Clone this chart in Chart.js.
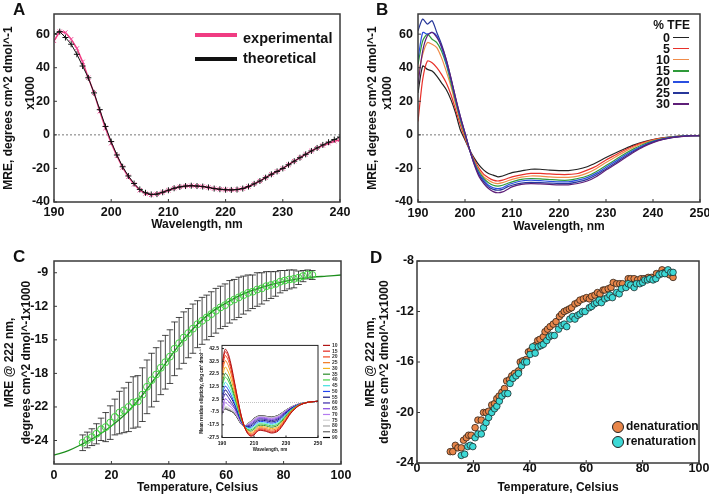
<!DOCTYPE html>
<html>
<head>
<meta charset="utf-8">
<script src="https://cdn.jsdelivr.net/npm/chart.js@4.4.1/dist/chart.umd.min.js"></script>
<style>
  body { margin: 0; background: #fff; }
  #wrap { position: relative; width: 709px; height: 494px; overflow: hidden; background: #fff;
          font-family: "Liberation Sans", Arial, sans-serif; font-weight: bold; color: #111; }
  canvas { position: absolute; }
  .t { position: absolute; white-space: nowrap; line-height: 1; }
  .letter { font-size: 17px; }
  .sw { position: absolute; }
</style>
</head>
<body>
<div id="wrap">
  <canvas id="cA" style="left:0;top:0" width="355" height="247"></canvas>
  <canvas id="cB" style="left:355px;top:0" width="354" height="247"></canvas>
  <canvas id="cC" style="left:0;top:247px" width="355" height="247"></canvas>
  <canvas id="cD" style="left:355px;top:247px" width="354" height="247"></canvas>
  <canvas id="cIn" style="left:196px;top:338px" width="150" height="118"></canvas>

  <div class="t letter" style="left:13px;top:1px">A</div>
  <div class="t letter" style="left:376px;top:1px">B</div>
  <div class="t letter" style="left:13px;top:248px">C</div>
  <div class="t letter" style="left:370px;top:249px">D</div>

  <!-- legend A -->
  <div class="sw" style="left:195px;top:33px;width:42px;height:4px;background:#f03c82"></div>
  <div class="t" style="left:243px;top:31px;font-size:14.5px">experimental</div>
  <div class="sw" style="left:195px;top:57px;width:42px;height:4px;background:#111"></div>
  <div class="t" style="left:243px;top:51px;font-size:14.5px">theoretical</div>

  <!-- legend B -->
  <div id="legB"></div>

  <!-- legend D -->
  <div class="sw" style="left:611.5px;top:420.5px;width:10px;height:10px;border-radius:50%;background:#e8864a;border:1px solid #222"></div>
  <div class="t" style="left:626px;top:420px;font-size:12px">denaturation</div>
  <div class="sw" style="left:611.5px;top:435.5px;width:10px;height:10px;border-radius:50%;background:#3dd9d6;border:1px solid #222"></div>
  <div class="t" style="left:626px;top:435px;font-size:12px">renaturation</div>
</div>

<script>
// ---------- Panel A: experimental vs theoretical CD spectrum ----------
const aWl = [190,191,192,193,194,195,196,197,198,199,200,201,202,203,204,205,206,207,208,209,210,
  211,212,213,214,215,216,217,218,219,220,221,222,223,224,225,226,227,228,229,230,
  231,232,233,234,235,236,237,238,239,240];
const aExp = [56,61.5,61,57,51.5,43.5,34,25,14,4,-5,-12.5,-19.5,-25,-29.5,-33,-35,-35.7,-35.2,-34.2,-33,
  -31.8,-31,-30.5,-30.3,-30.5,-30.8,-31.3,-32,-32.4,-32.7,-32.8,-32.6,-32,-30.8,-29.2,-27.5,-25.5,-23.5,-21.8,-20,
  -17.8,-15.7,-13.6,-11.6,-9.6,-7.9,-6.3,-5,-3.8,-3];
const aTheo = [60,61.5,58,54,48,41,34,25,15,5,-4,-12,-19,-24.5,-29,-32.5,-34.5,-35.5,-35.3,-34.2,-33,
  -31.8,-31,-30.5,-30.3,-30.5,-30.8,-31.3,-32,-32.4,-32.7,-32.8,-32.6,-32,-30.8,-29.2,-27.5,-25.5,-23.5,-21.8,-20,
  -17.8,-15.7,-13.6,-11.6,-9.6,-7.8,-6,-4.4,-2.8,-1.3];
const aXTicks = [190,200,210,220,230,240];
const aYTicks = [-40,-20,0,20,40,60];

// ---------- Panel B: spectra at increasing % TFE ----------
const bWl = [190,191,192,193,194,195,196,197,198,199,200,201,202,203,204,205,206,207,208,209,210,
  212,214,216,218,220,222,224,226,228,230,232,234,236,238,240,242,244,246,248,250];
const tfeLabels = ['0','5','10','15','20','25','30'];
const tfeColors = ['#222222','#e8302a','#f08c4a','#2f9a3a','#2a4fe0','#27379a','#5e1f78'];
const tfe0  = [25,41,39,38,35,31,27,21,13,3,-3,-9,-14,-18,-21,-23,-24,-25,-24.5,-23.5,-22.5,
  -21.5,-20.5,-20.5,-21,-21.3,-21.3,-20.5,-19,-16.5,-13.5,-10.8,-8.3,-6,-4.2,-2.8,-1.8,-1.2,-0.8,-0.5,-0.4];
const tfe5  = [8,33,44,43,40,36,31,24,15,6,-2,-9,-15,-20,-23.5,-25.5,-27,-27.5,-27,-26,-25,
  -23.8,-23,-23,-23.3,-23.6,-23.6,-23,-21,-18.5,-15,-12,-9,-6.5,-4.5,-3,-2,-1.3,-0.8,-0.5,-0.4];
const tfe10 = [35,48,55,54,52,46,38,29,18,8,-1,-9,-16,-21,-25,-27,-28.5,-29,-28.5,-27.5,-26.5,
  -25.2,-24.5,-24.6,-25,-25.3,-25.3,-24.6,-22.8,-20,-16.5,-13.2,-10,-7.2,-5,-3.3,-2.1,-1.3,-0.8,-0.5,-0.4];
const tfe15 = [42,56,60,57,55,50,42,31,20,9,0,-9,-16.5,-22,-26,-28.5,-30,-30.5,-30,-29,-28,
  -26.5,-26,-26.2,-26.6,-27,-27,-26,-24.5,-21.8,-18.3,-14.8,-11.3,-8.2,-5.6,-3.7,-2.3,-1.4,-0.8,-0.5,-0.4];
const tfe20 = [45,61,60,61,59,52,43,33,21,10,1,-9,-17,-23,-27,-30,-31.5,-32,-31.5,-30,-29,
  -27.5,-27,-27.3,-27.7,-28,-28,-27,-25.5,-22.8,-19.3,-15.8,-12.2,-9,-6.2,-4,-2.5,-1.5,-0.9,-0.5,-0.4];
const tfe25 = [62,69,66,68,61,54,45,34,22,11,1,-9,-17.5,-24,-28,-31,-32.5,-33,-32.5,-31,-30,
  -28.7,-28.3,-28.5,-28.7,-29,-29,-28,-26.5,-23.8,-20.3,-16.8,-13,-9.6,-6.6,-4.3,-2.7,-1.6,-0.9,-0.5,-0.4];
const tfe30 = [30,50,59,61,58,53,45,34,22,11,1,-9,-18,-25,-29,-32,-33.8,-34.5,-34,-32.5,-31,
  -29.5,-29,-29.2,-29.5,-29.8,-29.8,-29,-27.5,-24.8,-21,-17.5,-13.8,-10.2,-7,-4.6,-2.8,-1.7,-1,-0.6,-0.5];
const bXTicks = [190,200,210,220,230,240,250];
const bYTicks = [-40,-20,0,20,40,60];

// ---------- Panel C: thermal melt at 222 nm (mean, SD) + fit ----------
const cTemp = [10,11.6,13.2,14.8,16.4,18,19.6,21.2,22.8,24.4,26,27.6,29.2,30.8,32.4,34,35.6,37.2,38.8,40.4,
  42,43.6,45.2,46.8,48.4,50,51.6,53.2,54.8,56.4,58,59.6,61.2,62.8,64.4,66,67.6,69.2,70.8,72.4,
  74,75.6,77.2,78.8,80.4,82,83.6,85.2,86.8,88.4,90];
const cMre = [-24.2,-23.95,-23.7,-23.4,-23.0,-22.8,-22.4,-21.9,-21.5,-21.3,-21.0,-20.6,-20.5,-19.9,-19.2,-18.6,-18.1,-17.5,-17.0,-16.5,
  -15.8,-15.3,-14.8,-14.4,-14.0,-13.6,-13.3,-13.0,-12.7,-12.4,-12.1,-11.9,-11.6,-11.4,-11.2,-11.0,-10.8,-10.7,-10.5,-10.4,
  -10.2,-10.1,-10.0,-9.8,-9.7,-9.6,-9.55,-9.45,-9.3,-9.15,-9.2];
const cSd = [0.7,0.7,0.75,0.9,1.0,1.3,1.5,1.6,1.9,2.0,2.2,2.3,2.3,2.4,2.4,2.4,2.4,2.4,2.4,2.4,
  2.4,2.3,2.3,2.2,2.2,2.1,2.1,2.0,2.0,2.0,1.9,1.9,1.9,1.8,1.8,1.7,1.6,1.5,1.5,1.4,
  1.3,1.2,1.1,1.0,0.9,0.85,0.8,0.6,0.5,0.4,0.4];
const fitT = [0,5,10,15,20,25,30,35,40,45,50,55,60,65,70,75,80,85,90,95,100];
const fitMre = [-25.3,-24.9,-24.3,-23.6,-22.7,-21.6,-20.2,-18.5,-16.7,-15.0,-13.6,-12.5,-11.7,-11.0,-10.5,-10.1,-9.8,-9.55,-9.4,-9.3,-9.2];
const cXTicks = [0,20,40,60,80,100];
const cYTicks = [-24,-21,-18,-15,-12,-9];
const cYLabels = ['-24','-22','-18','-15','-12','-9'];

// ---------- Inset of C: spectra from 10 to 90 C ----------
const insetTemps = ['10','15','20','25','30','35','40','45','50','55','60','65','70','75','80','85','90'];
const insetColors = ['#b01414','#e4261e','#f0461e','#f2781e','#f2b21e','#2a8c2a','#46d446','#42e0e0',
  '#2244f0','#12127e','#3a28a8','#8646e0','#b47cf0','#d4d4d4','#a4a4a4','#646464','#000000'];
const insetWl = [190,192,194,196,198,200,202,204,206,208,210,213,217,221,225,229,233,238,244,250];
// one row per wavelength, one column per temperature
const insetMre = [
  [30,28,25,22,18,14,12,8,6,3,0,-5,-9,-10,-8,-8,-7],
  [42,40,37,33,28,23,20,16,13,10,7,3,0,-3,-4,-5,-5],
  [38,36,33,29,24,20,17,13,10,7,4,1,-2,-4,-5,-6,-6],
  [28,26,24,21,17,13,11,8,5,3,0,-2,-4,-6,-6,-7,-7],
  [15,14,12,10,7,5,3,1,-1,-2,-4,-5,-7,-8,-8,-9,-9],
  [2,1,0,-1,-3,-4,-5,-6,-7,-8,-9,-10,-11,-12,-12,-12.5,-13],
  [-10,-10.5,-11,-11.5,-12,-12.5,-13,-13.5,-14,-14.5,-15,-15.5,-16,-16.5,-16.5,-17,-17],
  [-19,-19,-19,-19,-18.8,-18.7,-18.6,-18.5,-18.5,-18.5,-18.5,-18.5,-18.6,-18.7,-18.8,-18.8,-18.8],
  [-24.5,-24,-23.5,-23,-22,-21.5,-21,-20,-19.5,-19,-18.5,-18,-17.5,-17,-17,-16.8,-16.8],
  [-26.5,-26,-25.3,-24.5,-23.5,-22.5,-21.5,-20.5,-19.5,-18.5,-17.5,-16.5,-15.8,-15.2,-15,-14.8,-14.7],
  [-25.5,-25,-24.3,-23.3,-22.2,-21,-20,-18.8,-17.7,-16.5,-15.5,-14.5,-13.5,-13,-12.7,-12.5,-12.4],
  [-22,-21.5,-20.8,-20,-19,-18,-17,-16,-15,-14,-13,-12.2,-11.5,-11,-10.8,-10.6,-10.5],
  [-22.5,-22,-21.2,-20.3,-19.3,-18.2,-17.2,-16.2,-15.2,-14.2,-13.3,-12.5,-11.8,-11.3,-11,-10.8,-10.7],
  [-24,-23.4,-22.6,-21.6,-20.5,-19.4,-18.3,-17.2,-16.2,-15.2,-14.2,-13.3,-12.5,-12,-11.7,-11.5,-11.4],
  [-22.5,-21.8,-21,-20,-19,-17.8,-16.8,-15.7,-14.7,-13.7,-12.8,-12,-11.2,-10.7,-10.4,-10.2,-10.1],
  [-16,-15.5,-14.8,-14,-13.2,-12.4,-11.6,-10.8,-10,-9.3,-8.6,-8,-7.5,-7.1,-6.9,-6.8,-6.7],
  [-8.5,-8.2,-7.8,-7.4,-7,-6.6,-6.2,-5.8,-5.4,-5,-4.7,-4.4,-4.1,-3.9,-3.8,-3.7,-3.6],
  [-2.5,-2.4,-2.3,-2.2,-2.1,-2,-1.9,-1.8,-1.7,-1.6,-1.5,-1.4,-1.3,-1.2,-1.2,-1.1,-1.1],
  [0.3,0.3,0.3,0.3,0.3,0.3,0.3,0.3,0.3,0.3,0.3,0.3,0.3,0.3,0.3,0.3,0.3],
  [1,1,1,1,1,1,1,1,1,1,1,1,1,1,1,1,1]
];
const inXTicks = [190,210,230,250];
const inYTicks = [-27.5,-17.5,-7.5,2.5,12.5,22.5,32.5,42.5];

// ---------- Panel D: denaturation / renaturation ----------
const denatT = [11.8,12.7,13.6,14.5,15.7,16.5,17.5,18.3,19.2,20.6,21.6,22.8,23.6,24.5,25.4,26.5,27.5,28.3,29.1,30.1,
  31.0,31.8,32.8,33.6,34.6,36.0,36.6,37.5,38.7,39.5,40.3,41.9,42.8,43.6,44.8,45.4,46.3,47.2,48.3,49.3,
  50.5,51.3,52.2,53.1,54.0,54.8,56.0,57.0,57.8,59.0,60.1,61.1,61.9,63.1,64.0,64.9,66.0,66.6,67.8,68.8,
  69.6,70.8,71.9,72.9,74.9,75.8,77.0,78.2,79.4,80.5,82.0,83.1,84.9,86.1,86.9,87.9,88.8,89.6,90.8];
const denatMre = [-23.1,-23.1,-22.6,-22.8,-22.8,-22.2,-22.0,-21.8,-21.8,-21.2,-20.6,-20.6,-20.0,-20.0,-19.9,-19.4,-19.3,-18.9,-18.7,-18.4,
  -18.1,-17.5,-17.4,-17.1,-16.9,-16.7,-16.0,-15.9,-15.8,-15.2,-15.1,-14.7,-14.3,-14.2,-14.0,-13.6,-13.4,-13.2,-13.0,-12.8,
  -12.4,-12.2,-12.0,-11.9,-11.8,-11.7,-11.4,-11.3,-11.1,-11.0,-10.9,-11.0,-10.8,-10.7,-10.5,-10.6,-10.3,-10.3,-10.2,-10.1,
  -9.7,-9.8,-9.8,-9.8,-9.4,-9.4,-9.4,-9.5,-9.4,-9.4,-9.3,-9.3,-9.0,-9.0,-8.7,-8.9,-9.0,-9.1,-9.3];
const renatT = [15.7,16.9,18.0,18.9,19.8,20.6,21.6,22.8,23.6,24.5,25.4,26.5,27.5,28.3,29.2,30.1,31.2,32.2,33.0,34.0,
  35.1,36.0,37.1,38.1,38.9,40.1,41.0,41.9,43.0,44.0,44.8,46.0,46.9,47.8,48.7,50.2,51.3,52.2,53.1,54.2,
  55.2,56.0,57.0,57.8,58.7,59.6,61.1,61.9,62.9,63.7,64.6,65.4,66.6,67.6,68.4,69.3,70.8,71.7,72.5,74.1,
  74.9,75.8,77.0,77.8,79.0,80.0,80.8,81.7,82.5,83.7,84.7,85.8,86.9,87.9,89.0,90.0,90.8];
const renatMre = [-23.4,-23.3,-22.7,-22.6,-22.7,-22.0,-21.7,-21.7,-21.2,-20.8,-20.4,-20.0,-19.7,-19.5,-19.1,-18.7,-18.5,-18.5,-17.7,-17.3,
  -17.1,-16.9,-16.3,-16.0,-16.0,-15.4,-14.8,-15.3,-14.8,-14.7,-14.6,-14.3,-14.0,-13.9,-13.9,-13.4,-13.1,-13.0,-13.2,-12.6,
  -12.4,-12.6,-12.3,-12.2,-12.0,-12.0,-11.7,-11.6,-11.4,-11.3,-11.1,-11.3,-11.0,-10.9,-10.7,-10.9,-10.5,-10.6,-10.2,-10.1,
  -9.8,-9.9,-10.1,-9.8,-9.8,-9.7,-9.5,-9.5,-9.4,-9.5,-9.4,-9.1,-9.0,-9.0,-8.7,-8.9,-8.9];
const dXTicks = [0,20,40,60,80,100];
const dYTicks = [-24,-20,-16,-12,-8];

// ---------------------------------------------------------
Chart.defaults.font.family = '"Liberation Sans", Arial, sans-serif';
Chart.defaults.font.weight = 'bold';
Chart.defaults.color = '#111';
Chart.defaults.animation = false;

const xy = (xs, ys) => xs.map((x, i) => ({ x: x, y: ys[i] }));

// plot frame + short inward tick marks
const framePlugin = {
  id: 'frame',
  afterDatasetsDraw(chart, args, opts) {
    const { ctx, chartArea: a, scales } = chart;
    ctx.save();
    ctx.strokeStyle = opts.color || '#3a3a3a';
    ctx.lineWidth = opts.width || 1.5;
    ctx.strokeRect(a.left, a.top, a.right - a.left, a.bottom - a.top);
    const len = opts.tick || 3;
    ctx.lineWidth = 1;
    ctx.beginPath();
    scales.x.ticks.forEach(t => {
      const px = scales.x.getPixelForValue(t.value);
      ctx.moveTo(px, a.bottom); ctx.lineTo(px, a.bottom - len);
    });
    scales.y.ticks.forEach(t => {
      const py = scales.y.getPixelForValue(t.value);
      ctx.moveTo(a.left, py); ctx.lineTo(a.left + len, py);
    });
    ctx.stroke();
    ctx.restore();
  }
};

// vertical SD bars for panel C
const errorBarPlugin = {
  id: 'errbars',
  beforeDatasetsDraw(chart) {
    const { ctx, scales: { x, y } } = chart;
    ctx.save();
    ctx.strokeStyle = '#1c1c1c';
    ctx.lineWidth = 0.8;
    ctx.beginPath();
    cTemp.forEach((t, i) => {
      const px = x.getPixelForValue(t);
      const top = y.getPixelForValue(cMre[i] + cSd[i]);
      const bot = y.getPixelForValue(cMre[i] - cSd[i]);
      ctx.moveTo(px, top); ctx.lineTo(px, bot);
      ctx.moveTo(px - 3.3, top); ctx.lineTo(px + 3.3, top);
      ctx.moveTo(px - 3.3, bot); ctx.lineTo(px + 3.3, bot);
    });
    ctx.stroke();
    ctx.restore();
  }
};

// small legend drawn to the right of the inset plot
const insetLegendPlugin = {
  id: 'insetLegend',
  afterDraw(chart) {
    const { ctx, chartArea: a } = chart;
    const ds = chart.data.datasets.filter(d => d.label);
    const step = (a.bottom - a.top) / (ds.length - 1);
    ctx.save();
    ctx.font = 'bold 5px "Liberation Sans", Arial, sans-serif';
    ctx.textBaseline = 'middle';
    ds.forEach((d, i) => {
      const py = a.top + i * step;
      ctx.strokeStyle = d.borderColor;
      ctx.lineWidth = 1.2;
      ctx.beginPath(); ctx.moveTo(a.right + 5, py); ctx.lineTo(a.right + 12, py); ctx.stroke();
      ctx.fillStyle = '#333';
      ctx.fillText(d.label, a.right + 14, py);
    });
    ctx.restore();
  }
};

function panelOptions(o) {
  return {
    responsive: false,
    animation: false,
    layout: { autoPadding: false, padding: { left: 0, top: o.area[1], right: o.W - o.area[2], bottom: 0 } },
    plugins: {
      legend: { display: false },
      tooltip: { enabled: false },
      frame: { width: o.frameWidth || 1.5, tick: o.tickLen || 3 }
    },
    scales: {
      x: {
        type: 'linear', min: o.xMin, max: o.xMax,
        grid: { display: false, drawTicks: false }, border: { display: false },
        afterBuildTicks: s => { s.ticks = o.xTicks.map(v => ({ value: v })); },
        afterFit: s => { s.height = o.H - o.area[3]; s.paddingLeft = 0; s.paddingRight = 0; },
        ticks: { autoSkip: false, maxRotation: 0, padding: o.xPad, font: { size: o.tickSize } },
        title: { display: true, text: o.xTitle, font: { size: o.titleSize },
                 padding: { top: 0, bottom: o.xTitlePad } }
      },
      y: {
        type: 'linear', min: o.yMin, max: o.yMax,
        grid: { display: false, drawTicks: false }, border: { display: false },
        afterBuildTicks: s => { s.ticks = o.yTicks.map(v => ({ value: v })); },
        afterFit: s => { s.width = o.area[0]; s.paddingTop = 0; s.paddingBottom = 0; },
        ticks: { autoSkip: false, padding: o.yPad, font: { size: o.tickSize },
                 callback: o.yFmt || (v => v) },
        title: { display: true, text: o.yTitle, font: { size: o.titleSize, lineHeight: o.yLine },
                 padding: { top: o.yTitlePad, bottom: 0 } }
      }
    }
  };
}

// leading spaces push the short second title line upwards (text runs bottom to top)
const lift = '         ';

// ---- A ----
new Chart(document.getElementById('cA'), {
  type: 'scatter',
  data: {
    datasets: [
      { data: xy(aWl, aTheo), showLine: true, borderColor: '#111', borderWidth: 1, tension: 0,
        pointStyle: 'cross', pointRadius: 3, pointBorderColor: '#111', pointBorderWidth: 1 },
      { data: xy(aWl, aExp), showLine: true, borderColor: '#f03c82', borderWidth: 1.5, tension: 0,
        pointStyle: 'crossRot', pointRadius: 3, pointBorderColor: '#f0509a', pointBorderWidth: 1 },
      { data: xy([190, 240], [0, 0]), showLine: true, borderColor: '#777', borderWidth: 1,
        borderDash: [2, 2], pointRadius: 0 }
    ]
  },
  options: panelOptions({
    W: 355, H: 247, area: [54, 14, 340, 202],
    xMin: 190, xMax: 240, xTicks: aXTicks, yMin: -40, yMax: 72, yTicks: aYTicks,
    tickSize: 12.5, titleSize: 12, xPad: 3, yPad: 4,
    xTitle: 'Wavelength, nm', xTitlePad: 15,
    yTitle: ['MRE, degrees cm^2 dmol^-1', lift + 'x1000'], yLine: 1.875, yTitlePad: -2.75
  }),
  plugins: [framePlugin]
});

// ---- B ----
const tfeSeries = [tfe0, tfe5, tfe10, tfe15, tfe20, tfe25, tfe30];
new Chart(document.getElementById('cB'), {
  type: 'scatter',
  data: {
    datasets: tfeSeries.map((s, k) => ({
      label: tfeLabels[k], data: xy(bWl, s), showLine: true, borderColor: tfeColors[k],
      borderWidth: 1.2, pointRadius: 0, tension: 0.25
    })).reverse().concat([
      { data: xy([190, 250], [0, 0]), showLine: true, borderColor: '#777', borderWidth: 1,
        borderDash: [2, 2], pointRadius: 0 }
    ])
  },
  options: panelOptions({
    W: 354, H: 247, area: [63, 14, 345, 202],
    xMin: 190, xMax: 250, xTicks: bXTicks, yMin: -40, yMax: 72, yTicks: bYTicks,
    tickSize: 12.5, titleSize: 12, xPad: 4, yPad: 5,
    xTitle: 'Wavelength, nm', xTitlePad: 13.5,
    yTitle: ['MRE, degrees cm^2 dmol^-1', lift + 'x1000'], yLine: 1.25, yTitlePad: 10.5
  }),
  plugins: [framePlugin]
});

// legend B as text
(function () {
  const box = document.getElementById('legB');
  let html = '<div class="t" style="right:' + (709 - 690) + 'px;top:19px;font-size:12px">% TFE</div>';
  tfeLabels.forEach((lab, k) => {
    const base = 41.7 + k * 11.1;
    html += '<div class="t" style="right:' + (709 - 670) + 'px;top:' + (base - 10) + 'px;font-size:12.5px">' + lab + '</div>';
    html += '<div class="sw" style="left:673px;top:' + (base - 5) + 'px;width:16px;height:1.6px;background:' + tfeColors[k] + '"></div>';
  });
  box.innerHTML = html;
})();

// ---- C ----
new Chart(document.getElementById('cC'), {
  type: 'scatter',
  data: {
    datasets: [
      { data: xy(cTemp, cMre), pointStyle: 'circle', pointRadius: 3.5, pointBackgroundColor: 'rgba(0,0,0,0)',
        pointBorderColor: '#3fd63f', pointBorderWidth: 1 },
      { data: xy(fitT, fitMre), showLine: true, borderColor: '#1e8f1e', borderWidth: 1.3,
        pointRadius: 0, tension: 0.4 }
    ]
  },
  options: panelOptions({
    W: 355, H: 247, area: [54, 14, 341, 217],
    xMin: 0, xMax: 100, xTicks: cXTicks, yMin: -26.1, yMax: -7.95, yTicks: cYTicks,
    yFmt: v => cYLabels[cYTicks.indexOf(v)],
    tickSize: 12.5, titleSize: 12, xPad: 4.4, yPad: 5.7,
    xTitle: 'Temperature, Celsius', xTitlePad: -0.9,
    yTitle: ['MRE @ 222 nm,', 'degrees cm^2 dmol^-1x1000'], yLine: 1.39, yTitlePad: 1.65
  }),
  plugins: [framePlugin, errorBarPlugin]
});

// ---- C inset ----
new Chart(document.getElementById('cIn'), {
  type: 'scatter',
  data: {
    datasets: insetTemps.map((t, k) => ({
      label: t, data: insetWl.map((w, i) => ({ x: w, y: insetMre[i][k] })), showLine: true,
      borderColor: insetColors[k], borderWidth: 1, pointRadius: 0, tension: 0.3
    })).concat([
      { data: xy([190, 250], [0, 0]), showLine: true, borderColor: '#999', borderWidth: 0.6,
        borderDash: [1, 1], pointRadius: 0 }
    ])
  },
  options: (function () {
    const o = panelOptions({
      W: 150, H: 118, area: [26, 7.4, 122, 99.5],
      xMin: 190, xMax: 250, xTicks: inXTicks, yMin: -27.5, yMax: 45, yTicks: inYTicks,
      yFmt: v => v.toFixed(1),
      tickSize: 5, titleSize: 4.5, xPad: 2.8, yPad: 3,
      xTitle: 'Wavelength, nm', xTitlePad: 3.3,
      yTitle: 'Mean residue ellipticity, deg cm\u00b2 dmol\u207b\u00b9', yLine: 1.2, yTitlePad: 3.3,
      frameWidth: 1, tickLen: 2
    });
    o.plugins.frame.color = '#222';
    return o;
  })(),
  plugins: [framePlugin, insetLegendPlugin]
});

// ---- D ----
new Chart(document.getElementById('cD'), {
  type: 'scatter',
  data: {
    datasets: [
      { label: 'renaturation', order: 0, data: xy(renatT, renatMre), pointRadius: 3.3,
        pointBackgroundColor: '#3dd9d6', pointBorderColor: '#1d2b2b', pointBorderWidth: 0.8 },
      { label: 'denaturation', order: 1, data: xy(denatT, denatMre), pointRadius: 3.3,
        pointBackgroundColor: '#e8864a', pointBorderColor: '#2e2218', pointBorderWidth: 0.8 }
    ]
  },
  options: panelOptions({
    W: 354, H: 247, area: [62, 14, 344, 216],
    xMin: 0, xMax: 100, xTicks: dXTicks, yMin: -24, yMax: -8, yTicks: dYTicks,
    tickSize: 12.5, titleSize: 12, xPad: -1.5, yPad: 3,
    xTitle: 'Temperature, Celsius', xTitlePad: -1.2,
    yTitle: ['MRE @ 222 nm,', 'degrees cm^2 dmol^-1x1000'], yLine: 1.19, yTitlePad: 8.5
  }),
  plugins: [framePlugin]
});
</script>
</body>
</html>
